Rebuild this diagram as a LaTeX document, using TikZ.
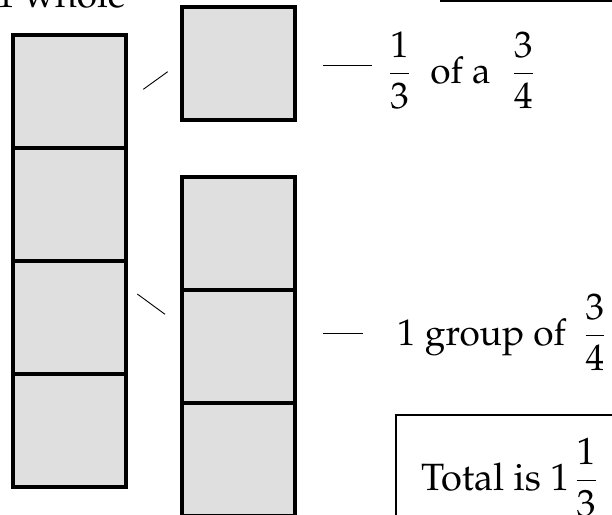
\documentclass[tikz,border=0pt]{standalone}
\usepackage[T1]{fontenc}
\usepackage{mathpazo}
\usepackage{amsmath}
\begin{document}
\begin{tikzpicture}[x=1pt,y=-1pt,
  cell/.style={draw=black, fill=cellgray, line width=3.4pt, minimum size=113pt,
               inner sep=0pt, outer sep=0pt},
  pointer/.style={draw=black, line width=0.9pt},
  frame/.style={draw=black, line width=1.2pt},
  label/.style={anchor=base west, inner sep=0pt, font=\fontsize{37}{44}\selectfont}]
\definecolor{cellgray}{RGB}{223,223,223}
\useasboundingbox (0,0) rectangle (612,514);
\clip (0,0) rectangle (612,514);

% the whole: four stacked quarters
\node[cell] (L1) at (69.5, 91.5) {};
\node[cell] (L2) at (69.5,204.5) {};
\node[cell] (L3) at (69.5,317.5) {};
\node[cell] (L4) at (69.5,430.5) {};

% one third of three quarters
\node[cell] (S) at (238.5, 63.5) {};

% one group of three quarters
\node[cell] (R1) at (238.5,233.5) {};
\node[cell] (R2) at (238.5,346.5) {};
\node[cell] (R3) at (238.5,459.5) {};

% boxes around the remarks
\draw[frame] (441,-60) rectangle (660,1);
\draw[frame] (396,415) rectangle (660,560);

% texts
\node[label] (whole) at (-3.5,8) {1 whole};
\node[label] (third) at (389,83)
  {$\dfrac{1}{3}$\hspace{0.55em}of a\hspace{0.6em}$\dfrac{3}{4}$};
\node[label] (group) at (397,345) {1 group of\hspace{0.5em}$\dfrac{3}{4}$};
\node[label, font=\fontsize{38}{46}\selectfont] (total) at (421,490)
  {Total is 1\hspace{6pt}$\dfrac{1}{3}$};

% short pointer strokes
\coordinate (p1a) at (143.3,89.3);
\coordinate (p1b) at (167.7,71.7);
\coordinate (p2a) at (137.3,294);
\coordinate (p2b) at (165,314.3);
\coordinate (p3a) at (323,65);
\coordinate (p3b) at (372,65);
\coordinate (p4a) at (323,333);
\coordinate (p4b) at (363,333);
\draw[pointer] (p1a) -- (p1b);
\draw[pointer] (p2a) -- (p2b);
\draw[pointer] (p3a) -- (p3b);
\draw[pointer] (p4a) -- (p4b);
\end{tikzpicture}
\end{document}
